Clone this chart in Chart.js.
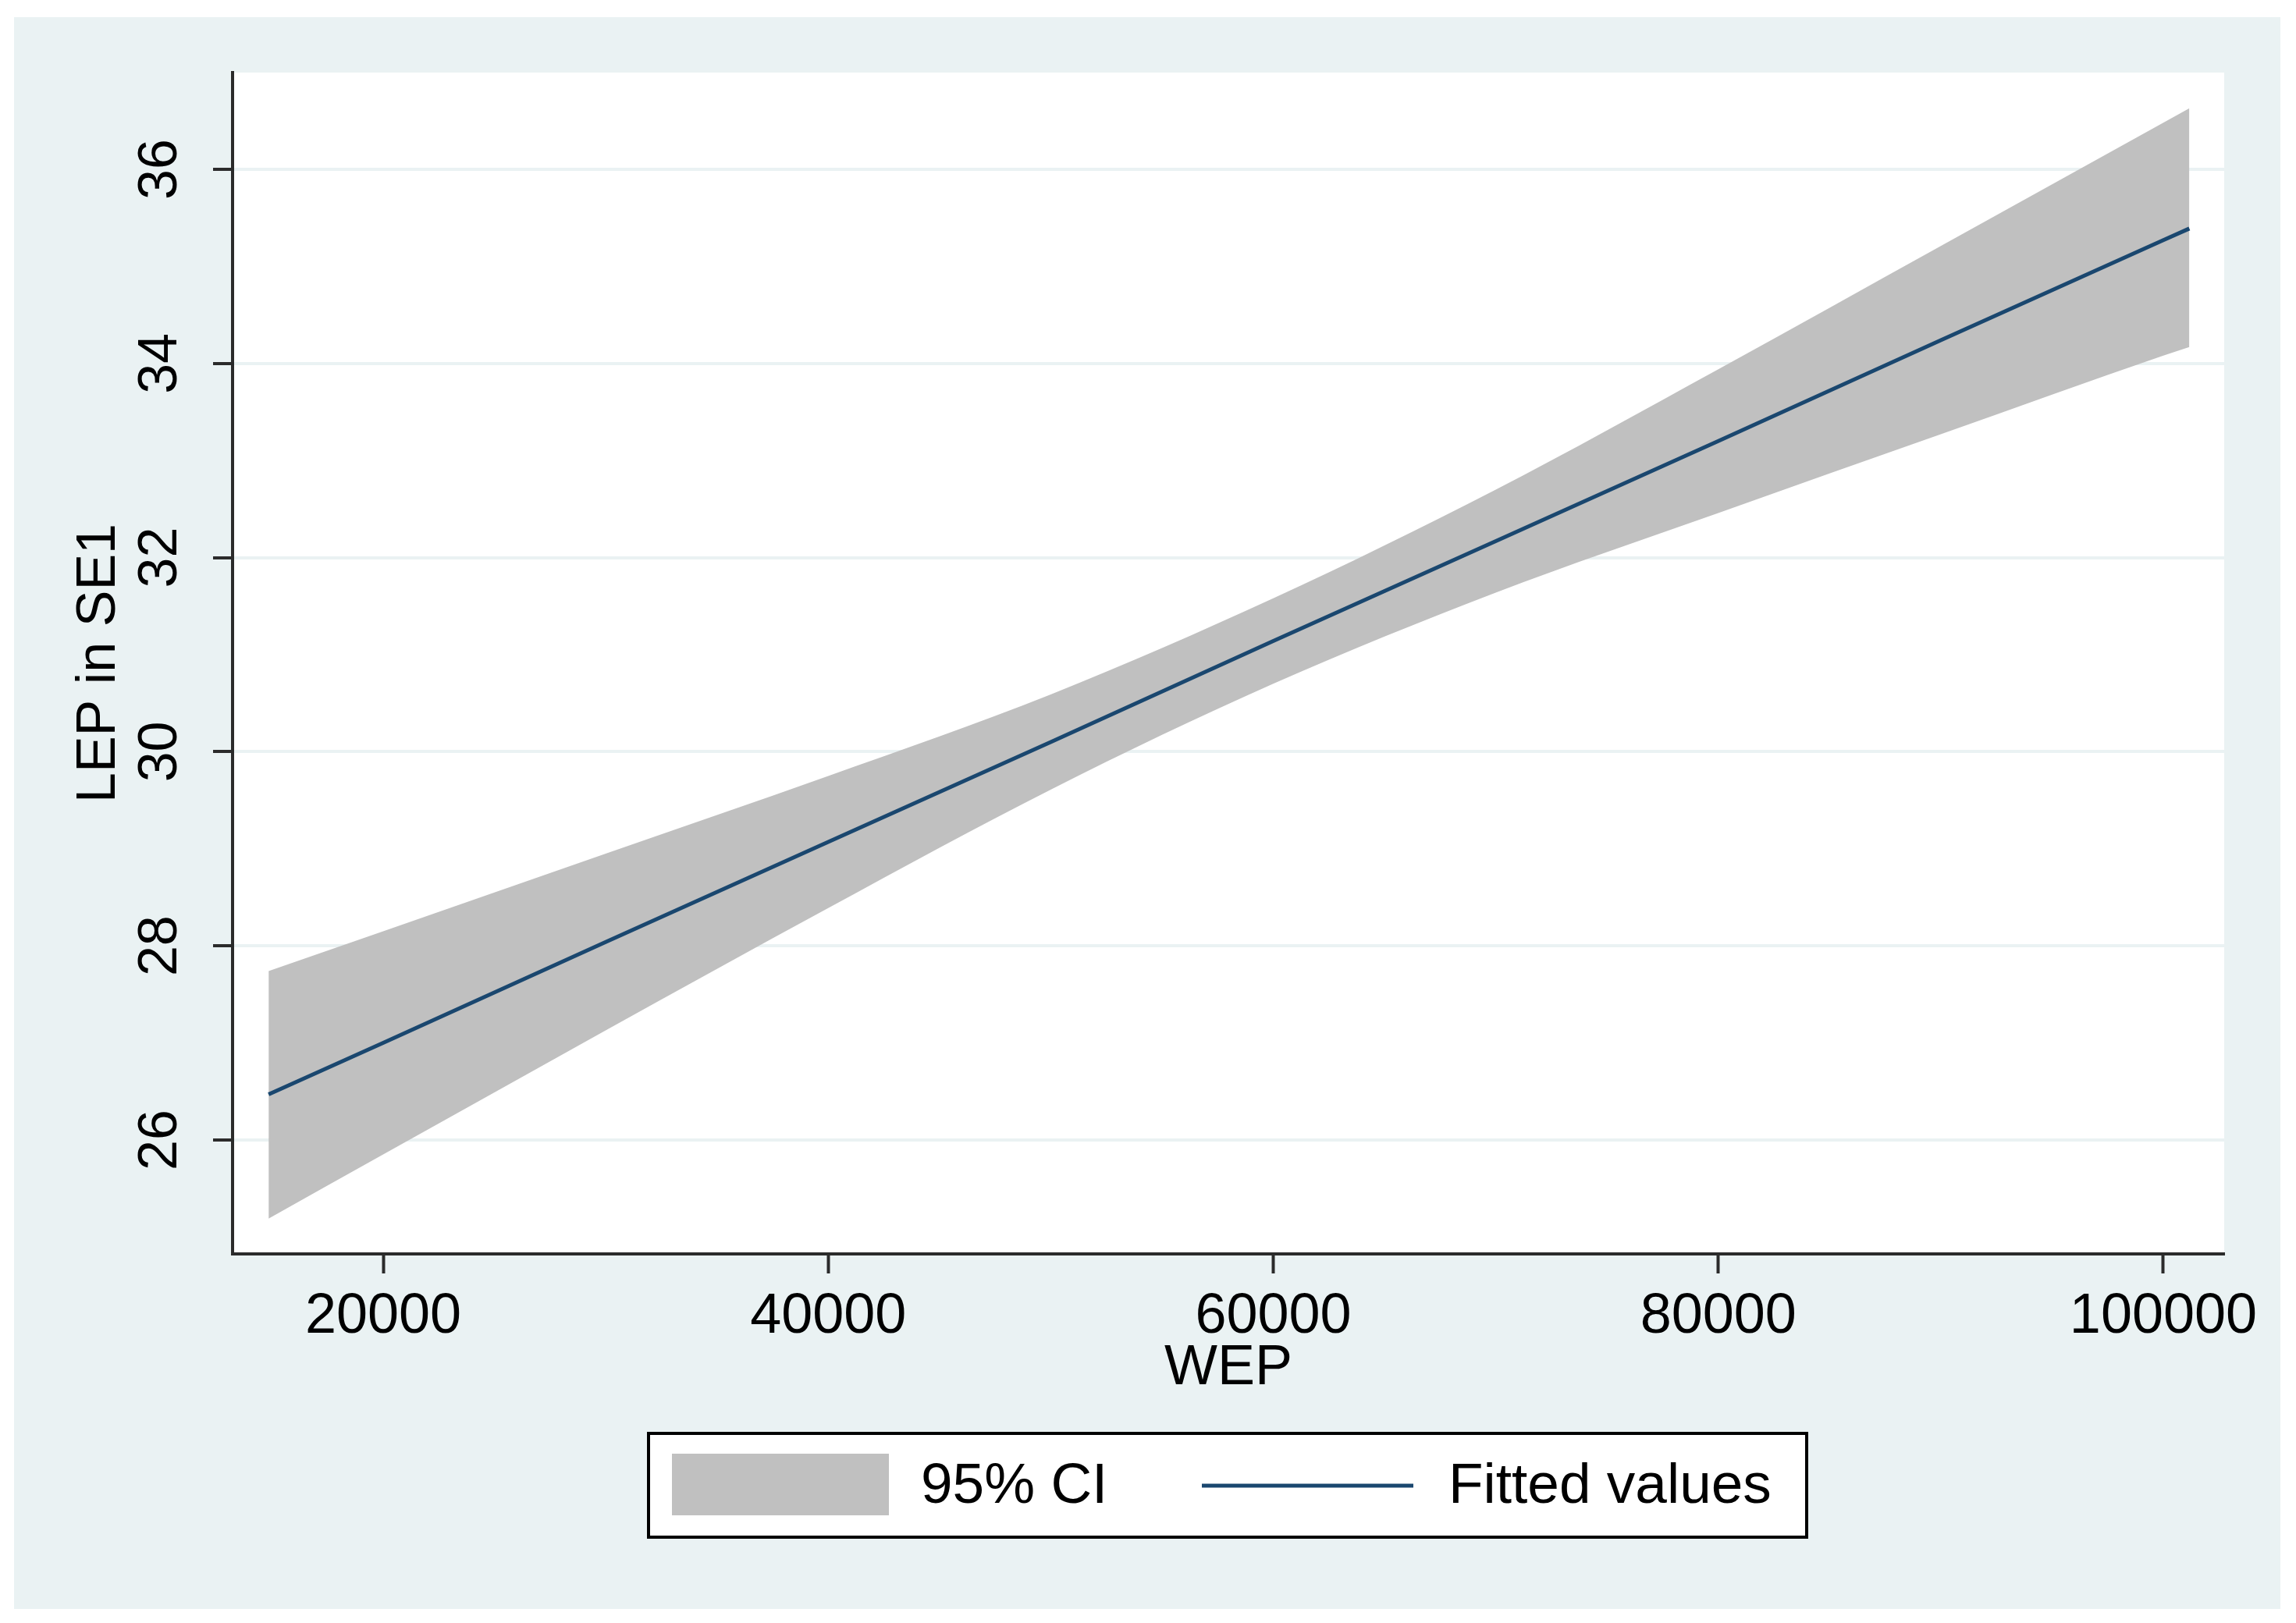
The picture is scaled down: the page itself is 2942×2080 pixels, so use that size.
<!DOCTYPE html>
<html>
<head>
    <title>LEP in SE1 vs WEP</title>
    <script src="https://cdn.jsdelivr.net/npm/chart.js"></script>
    <style>
        body { margin: 0; background: #ffffff; }
        canvas { display: block; }
    </style>
</head>
<body>
    <canvas id="fitChart" width="2942" height="2080"></canvas>

    <script>
        // values
        const wep      = [14850, 20000, 30000, 40000, 50000, 60000, 70000, 80000, 90000, 100000, 101170];
        const fitted   = [26.47, 27.00, 28.04, 29.07, 30.10, 31.14, 32.17, 33.20, 34.24, 35.27, 35.39];
        const ciUpper  = [27.74, 28.15, 28.95, 29.75, 30.59, 31.58, 32.70, 33.94, 35.21, 36.48, 36.63];
        const ciLower  = [25.19, 25.85, 27.13, 28.39, 29.61, 30.70, 31.64, 32.46, 33.27, 34.08, 34.17];
        const xTicks   = [20000, 40000, 60000, 80000, 100000];
        const yTicks   = [26, 28, 30, 32, 34, 36];

        const bg = '#eaf2f3';
        const navy = '#1a476f';
        const ciGrey = '#c0c0c0';
        const axisColor = '#2b2b2b';
        const font = 'Liberation Sans, Arial, sans-serif';

        const pts = ys => wep.map((x, i) => ({ x: x, y: ys[i] }));

        // stata style outer region + legend box
        const frame = {
            id: 'frame',
            beforeDraw(chart) {
                const c = chart.ctx;
                c.save();
                c.fillStyle = '#ffffff';
                c.fillRect(0, 0, chart.width, chart.height);
                c.fillStyle = bg;
                c.fillRect(18, 22, 2904, 2040);
                const a = chart.chartArea;
                c.fillStyle = '#ffffff';
                c.fillRect(a.left, a.top, a.right - a.left, a.bottom - a.top);
                c.restore();
            },
            afterDraw(chart) {
                const c = chart.ctx;
                const ds = chart.data.datasets;
                c.save();
                c.fillStyle = '#ffffff';
                c.fillRect(831, 1837, 1484, 133);
                c.strokeStyle = '#000000';
                c.lineWidth = 4;
                c.strokeRect(831, 1837, 1484, 133);
                c.fillStyle = ds[1].backgroundColor;
                c.fillRect(861, 1863, 278, 79);
                c.strokeStyle = ds[0].borderColor;
                c.lineWidth = 5;
                c.beginPath();
                c.moveTo(1540, 1904);
                c.lineTo(1811, 1904);
                c.stroke();
                c.fillStyle = '#000000';
                c.font = '73px ' + font;
                c.textBaseline = 'middle';
                c.fillText(ds[1].label, 1180, 1906);
                c.fillText(ds[0].label, 1856, 1906);
                c.restore();
            }
        };

        const ctx = document.getElementById('fitChart').getContext('2d');
        new Chart(ctx, {
            type: 'line',
            data: {
                datasets: [
                    {
                        label: 'Fitted values',
                        data: pts(fitted),
                        borderColor: navy,
                        borderWidth: 5,
                        pointRadius: 0,
                        fill: false
                    },
                    {
                        label: '95% CI',
                        data: pts(ciUpper),
                        borderWidth: 0,
                        borderColor: ciGrey,
                        backgroundColor: ciGrey,
                        pointRadius: 0,
                        cubicInterpolationMode: 'monotone',
                        fill: '+1'
                    },
                    {
                        label: 'lower',
                        data: pts(ciLower),
                        borderWidth: 0,
                        borderColor: ciGrey,
                        backgroundColor: ciGrey,
                        pointRadius: 0,
                        cubicInterpolationMode: 'monotone',
                        fill: false
                    }
                ]
            },
            options: {
                responsive: false,
                devicePixelRatio: 1,
                animation: false,
                layout: { padding: { left: 0, top: 93, right: 92, bottom: 0 } },
                plugins: {
                    legend: { display: false },
                    tooltip: { enabled: false }
                },
                scales: {
                    x: {
                        type: 'linear',
                        min: 13231,
                        max: 102736,
                        afterFit: s => { s.height = 473; },
                        afterBuildTicks: s => { s.ticks = xTicks.map(v => ({ value: v })); },
                        border: { display: true, color: axisColor, width: 4 },
                        grid: {
                            drawOnChartArea: false,
                            drawTicks: true,
                            tickLength: 25,
                            tickColor: axisColor,
                            tickWidth: 4
                        },
                        ticks: {
                            color: '#000000',
                            font: { family: font, size: 72 },
                            padding: 13,
                            maxRotation: 0,
                            callback: v => String(v)
                        },
                        title: {
                            display: true,
                            text: 'WEP',
                            color: '#000000',
                            font: { family: font, size: 72 },
                            padding: { top: 0, bottom: 283 }
                        }
                    },
                    y: {
                        type: 'linear',
                        min: 24.826,
                        max: 36.997,
                        afterFit: s => { s.width = 298; },
                        afterBuildTicks: s => { s.ticks = yTicks.map(v => ({ value: v })); },
                        border: { display: true, color: axisColor, width: 4 },
                        grid: {
                            color: bg,
                            lineWidth: 4,
                            drawTicks: true,
                            tickLength: 25,
                            tickColor: axisColor,
                            tickWidth: 4
                        },
                        ticks: {
                            color: '#000000',
                            font: { family: font, size: 70 },
                            padding: 27,
                            minRotation: 90,
                            maxRotation: 90,
                            crossAlign: 'center',
                            callback: v => String(v)
                        },
                        title: {
                            display: true,
                            text: 'LEP in SE1',
                            color: '#000000',
                            font: { family: font, size: 70 },
                            padding: { top: 86, bottom: 0 }
                        }
                    }
                }
            },
            plugins: [frame]
        });
    </script>
</body>
</html>
